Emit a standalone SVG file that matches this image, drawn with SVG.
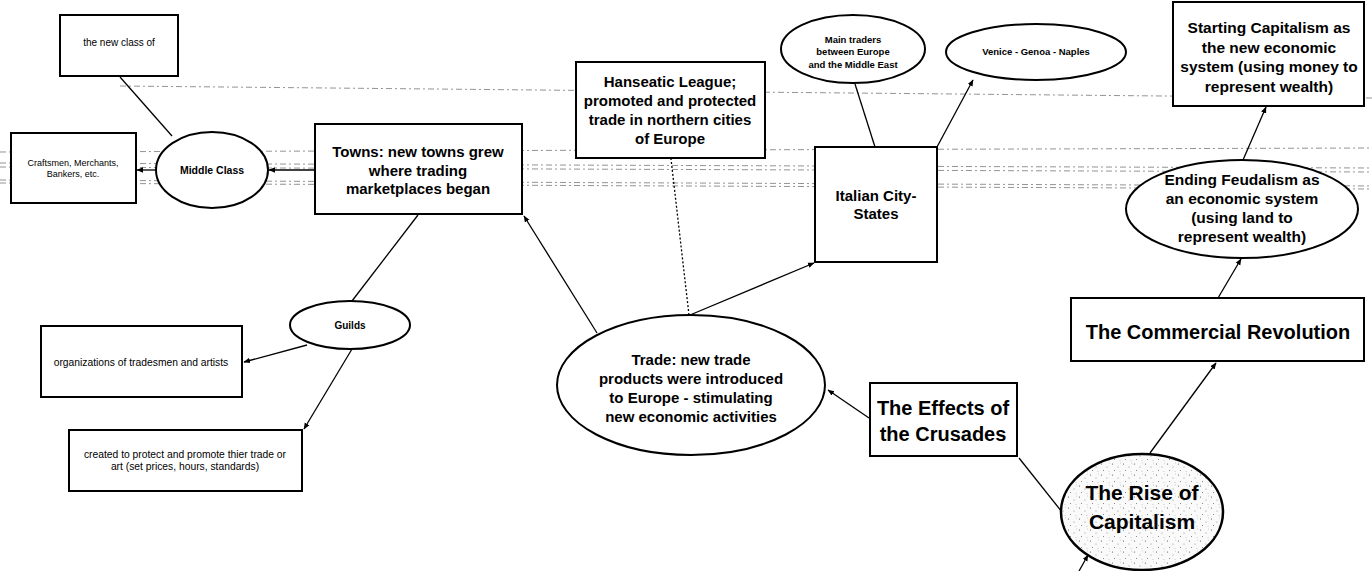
<svg xmlns="http://www.w3.org/2000/svg" width="1372" height="571" viewBox="0 0 1372 571">
<style>
.box{fill:#fff;stroke:#000;stroke-width:2}
.oval{fill:#fff;stroke:#000;stroke-width:2}
.c{fill:none;stroke:#000;stroke-width:1.3}
.dot{fill:none;stroke:#000;stroke-width:1.3;stroke-dasharray:2 2}
.noise{fill:none;stroke:#777;stroke-width:0.8;stroke-dasharray:6 3 2 3}
.t{font-family:"Liberation Sans",Arial,sans-serif;text-anchor:middle;fill:#000}
.b{font-weight:bold}
</style>
<defs>
<marker id="ah" markerWidth="7" markerHeight="7" refX="6" refY="3.5" orient="auto" markerUnits="userSpaceOnUse">
<path d="M0,0.8 L6.5,3.5 L0,6.2 Z" fill="#000"/>
</marker>
<pattern id="stipple" width="11" height="11" patternUnits="userSpaceOnUse">
<rect width="11" height="11" fill="#fafafa"/>
<circle cx="1.5" cy="2" r="0.6" fill="#555"/>
<circle cx="7" cy="5" r="0.5" fill="#777"/>
<circle cx="3.5" cy="8.5" r="0.5" fill="#666"/>
<circle cx="9.5" cy="1" r="0.4" fill="#999"/>
<circle cx="9" cy="9.5" r="0.4" fill="#888"/>
</pattern>
</defs>

<g id="scan-noise">
<path class="noise" d="M120,86 L1372,98"/>
<path class="noise" d="M0,152 L1372,148"/>
<path class="noise" d="M0,163 L1372,168"/>
<path class="noise" d="M0,167 L1372,172"/>
<path class="noise" d="M0,180 L1372,186"/>
<path class="noise" d="M0,183 L1372,189"/>
</g>

<g id="connectors">
<line class="c" x1="120" y1="77" x2="172" y2="136"/>
<line class="c" x1="156" y1="170" x2="137" y2="170" marker-end="url(#ah)"/>
<line class="c" x1="315" y1="170" x2="269" y2="170" marker-end="url(#ah)"/>
<line class="c" x1="418" y1="215" x2="352" y2="301"/>
<line class="c" x1="307" y1="345" x2="244" y2="362" marker-end="url(#ah)"/>
<line class="c" x1="352" y1="349" x2="304" y2="429" marker-end="url(#ah)"/>
<line class="c" x1="597" y1="333" x2="524" y2="216" marker-end="url(#ah)"/>
<line class="dot" x1="689" y1="315" x2="671" y2="159"/>
<line class="c" x1="690" y1="315" x2="814" y2="263" marker-end="url(#ah)"/>
<line class="c" x1="875" y1="147" x2="855" y2="84"/>
<line class="c" x1="937" y1="147" x2="973" y2="80" marker-end="url(#ah)"/>
<line class="c" x1="869" y1="418" x2="828" y2="390" marker-end="url(#ah)"/>
<line class="c" x1="1062" y1="512" x2="1019" y2="458"/>
<line class="c" x1="1150" y1="453" x2="1216" y2="363" marker-end="url(#ah)"/>
<line class="c" x1="1218" y1="298" x2="1241" y2="259" marker-end="url(#ah)"/>
<line class="c" x1="1243" y1="160" x2="1266" y2="107" marker-end="url(#ah)"/>
<line class="c" x1="1079" y1="571" x2="1088" y2="555" marker-end="url(#ah)"/>
</g>

<g id="new-class">
<rect class="box" x="60" y="15" width="118" height="61"/>
<text class="t" x="119" y="45.5" font-size="10">the new class of</text>
</g>

<g id="craftsmen">
<rect class="box" x="11" y="133" width="125" height="70"/>
<text class="t" x="73" y="166" font-size="9">Craftsmen, Merchants,</text>
<text class="t" x="73" y="177" font-size="9">Bankers, etc.</text>
</g>

<g id="middle-class">
<ellipse class="oval" cx="212" cy="170" rx="56" ry="38"/>
<text class="t b" x="212" y="174" font-size="10.5">Middle Class</text>
</g>

<g id="towns">
<rect class="box" x="315" y="124" width="207" height="90"/>
<text class="t b" x="418" y="157" font-size="15">Towns:  new towns grew</text>
<text class="t b" x="418" y="175.5" font-size="15">where trading</text>
<text class="t b" x="418" y="194" font-size="15">marketplaces began</text>
</g>

<g id="guilds">
<ellipse class="oval" cx="350" cy="325" rx="60" ry="24"/>
<text class="t b" x="350" y="328.5" font-size="10">Guilds</text>
</g>

<g id="organizations">
<rect class="box" x="41" y="326" width="201" height="71"/>
<text class="t" x="141" y="365.5" font-size="10.3">organizations of tradesmen and artists</text>
</g>

<g id="created">
<rect class="box" x="69" y="430" width="233" height="61"/>
<text class="t" x="185" y="458" font-size="10.3">created to protect and promote thier trade or</text>
<text class="t" x="185" y="470" font-size="10.3">art (set prices, hours, standards)</text>
</g>

<g id="hanseatic">
<rect class="box" x="576" y="62" width="189" height="96"/>
<text class="t b" x="670" y="87" font-size="15">Hanseatic League;</text>
<text class="t b" x="670" y="106" font-size="15">promoted and protected</text>
<text class="t b" x="670" y="125" font-size="15">trade in northern cities</text>
<text class="t b" x="670" y="143.5" font-size="15">of Europe</text>
</g>

<g id="italian">
<rect class="box" x="815" y="147" width="122" height="115"/>
<text class="t b" x="876" y="201" font-size="15">Italian City-</text>
<text class="t b" x="876" y="219" font-size="15">States</text>
</g>

<g id="main-traders">
<ellipse class="oval" cx="853" cy="49" rx="72" ry="34"/>
<text class="t b" x="853" y="42.5" font-size="9.5">Main traders</text>
<text class="t b" x="853" y="55" font-size="9.5">between Europe</text>
<text class="t b" x="853" y="67.5" font-size="9.5">and the Middle East</text>
</g>

<g id="venice">
<ellipse class="oval" cx="1036" cy="52" rx="90" ry="28"/>
<text class="t b" x="1036" y="55" font-size="9.5">Venice - Genoa - Naples</text>
</g>

<g id="trade">
<ellipse class="oval" cx="691" cy="385" rx="134" ry="70"/>
<text class="t b" x="691" y="365" font-size="15">Trade:  new trade</text>
<text class="t b" x="691" y="384" font-size="15">products were introduced</text>
<text class="t b" x="691" y="403" font-size="15">to Europe - stimulating</text>
<text class="t b" x="691" y="422" font-size="15">new economic activities</text>
</g>

<g id="effects">
<rect class="box" x="870" y="383" width="147" height="73"/>
<text class="t b" x="943" y="415" font-size="20">The Effects of</text>
<text class="t b" x="943" y="441" font-size="20">the Crusades</text>
</g>

<g id="rise">
<ellipse cx="1142" cy="512" rx="81" ry="58" fill="url(#stipple)" stroke="#000" stroke-width="2.5"/>
<text class="t b" x="1142" y="500" font-size="21">The Rise of</text>
<text class="t b" x="1142" y="529" font-size="21">Capitalism</text>
</g>

<g id="commercial">
<rect class="box" x="1071" y="298" width="293" height="63"/>
<text class="t b" x="1218" y="339" font-size="20">The Commercial Revolution</text>
</g>

<g id="ending">
<ellipse class="oval" cx="1242" cy="209" rx="116" ry="49"/>
<text class="t b" x="1242" y="185" font-size="15.5">Ending Feudalism as</text>
<text class="t b" x="1242" y="204" font-size="15.5">an economic system</text>
<text class="t b" x="1242" y="223" font-size="15.5">(using land to</text>
<text class="t b" x="1242" y="242" font-size="15.5">represent wealth)</text>
</g>

<g id="starting">
<rect class="box" x="1173" y="2" width="191" height="104"/>
<text class="t b" x="1269" y="33" font-size="15.5">Starting Capitalism as</text>
<text class="t b" x="1269" y="53" font-size="15.5">the new economic</text>
<text class="t b" x="1269" y="72" font-size="15.5">system (using money to</text>
<text class="t b" x="1269" y="92" font-size="15.5">represent wealth)</text>
</g>
</svg>
